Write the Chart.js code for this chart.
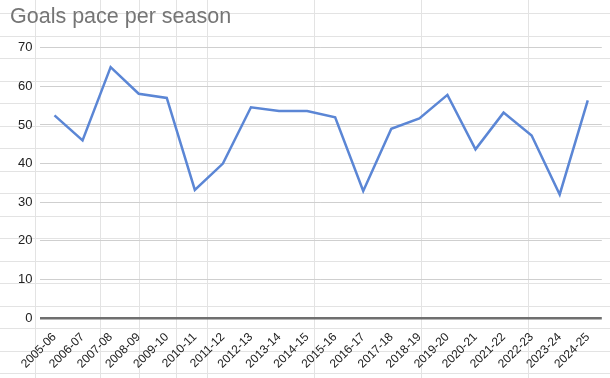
<!DOCTYPE html>
<html>
<head>
<meta charset="utf-8">
<script src="https://cdn.jsdelivr.net/npm/chart.js@4"></script>
<style>
  html, body { margin: 0; padding: 0; background: #fff; }
  #wrap { width: 610px; height: 378px; position: relative; }
</style>
</head>
<body>
<div id="wrap"><canvas id="chart"></canvas></div>
<script>
const seasons = ["2005-06", "2006-07", "2007-08", "2008-09", "2009-10", "2010-11", "2011-12",
  "2012-13", "2013-14", "2014-15", "2015-16", "2016-17", "2017-18", "2018-19", "2019-20",
  "2020-21", "2021-22", "2022-23", "2023-24", "2024-25"];
const goalsPace = [52.5, 46.0, 65.0, 58.1, 57.0, 33.2, 40.0, 54.6, 53.6, 53.6, 52.0, 32.9,
  49.0, 51.7, 57.8, 43.7, 53.2, 47.3, 32.0, 56.4];
const yTicks = [0, 10, 20, 30, 40, 50, 60, 70];

// the spreadsheet cells behind the chart
const sheetCols = [35, 100, 139, 176, 207, 314, 421, 528];
const sheetRowStart = 13;
const sheetRowHeight = 22.5;

const sheetGrid = {
  id: "sheetGrid",
  beforeDraw(chart) {
    const ctx = chart.ctx;
    ctx.save();
    ctx.strokeStyle = "#e3e3e3";
    ctx.lineWidth = 1;
    ctx.beginPath();
    for (let y = sheetRowStart; y < chart.height; y += sheetRowHeight) {
      ctx.moveTo(0, Math.round(y) + 0.5);
      ctx.lineTo(chart.width, Math.round(y) + 0.5);
    }
    sheetCols.forEach(x => {
      ctx.moveTo(x + 0.5, 0);
      ctx.lineTo(x + 0.5, chart.height);
    });
    ctx.stroke();
    ctx.restore();
  }
};

const font = "'Liberation Sans', Arial, sans-serif";

new Chart(document.getElementById("chart"), {
  type: "line",
  data: {
    labels: seasons,
    datasets: [{
      data: goalsPace,
      borderColor: "#5b86d5",
      borderWidth: 2.5,
      pointRadius: 0,
      tension: 0,
      fill: false
    }]
  },
  plugins: [sheetGrid],
  options: {
    responsive: true,
    maintainAspectRatio: false,
    animation: false,
    layout: { padding: { left: 10, right: 2, top: 4, bottom: 0 } },
    plugins: {
      legend: { display: false },
      tooltip: { enabled: false },
      title: {
        display: true,
        text: "Goals pace per season",
        align: "start",
        color: "#757575",
        font: { family: font, size: 21.5, weight: "normal" },
        padding: { top: 0, bottom: 18 }
      }
    },
    scales: {
      x: {
        offset: true,
        afterFit: scale => { scale.height = 60; },
        grid: { display: false, drawTicks: false },
        border: { display: false },
        ticks: {
          autoSkip: false,
          maxRotation: 45,
          minRotation: 45,
          padding: 12,
          color: "#222",
          font: { family: font, size: 12 }
        }
      },
      y: {
        min: 0,
        max: 70,
        afterBuildTicks: axis => { axis.ticks = yTicks.map(v => ({ value: v })); },
        grid: {
          drawTicks: false,
          color: c => c.tick && c.tick.value === 0 ? "#6f6f6f" : "#cfcfcf",
          lineWidth: c => c.tick && c.tick.value === 0 ? 2.5 : 1
        },
        border: { display: false },
        ticks: {
          padding: 8,
          color: "#222",
          font: { family: font, size: 13 }
        }
      }
    }
  }
});
</script>
</body>
</html>
